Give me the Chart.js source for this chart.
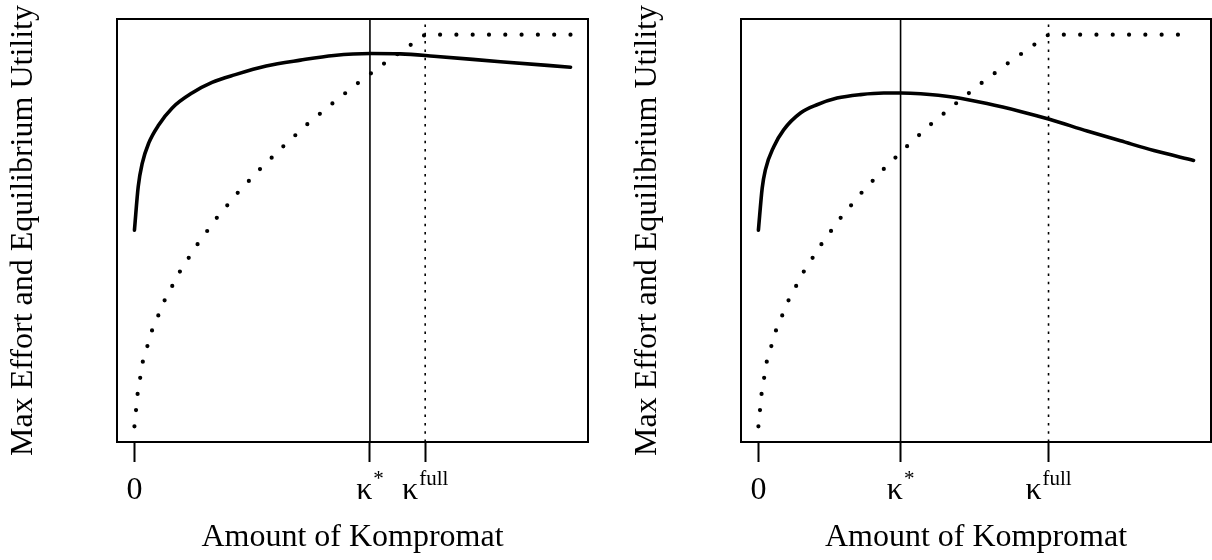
<!DOCTYPE html>
<html>
<head>
<meta charset="utf-8">
<script src="https://cdn.jsdelivr.net/npm/chart.js@4.4.1/dist/chart.umd.min.js"></script>
<style>
body{margin:0;background:#fff;overflow:hidden;width:1212px;height:560px;position:relative}
.panel{position:absolute;top:0}
</style>
</head>
<body>
<div class="panel" style="left:0"><canvas id="left" width="606" height="560"></canvas></div>
<div class="panel" style="left:624px"><canvas id="right" width="588" height="560"></canvas></div>
<script>
// dotted curve: max effort (same in both panels)
var effortX = [0, 0.011, 0.029, 0.061, 0.104, 0.157, 0.217, 0.283, 0.355, 0.432, 0.512, 0.594, 0.680, 0.768, 0.858, 0.950, 1.0, 1.5];
var effortY = [0, 0.084, 0.166, 0.246, 0.322, 0.396, 0.465, 0.532, 0.596, 0.657, 0.715, 0.771, 0.824, 0.876, 0.926, 0.974, 1.0, 1.0];
// solid curve: equilibrium utility
var utilLeftX = [0, 0.013, 0.027, 0.049, 0.084, 0.130, 0.198, 0.267, 0.347, 0.453, 0.571, 0.686, 0.812, 0.915, 1.030, 1.259, 1.5];
var utilLeftY = [0.501, 0.612, 0.672, 0.723, 0.770, 0.813, 0.851, 0.878, 0.898, 0.920, 0.935, 0.947, 0.952, 0.951, 0.945, 0.931, 0.917];
var utilRightX = [0, 0.013, 0.024, 0.053, 0.087, 0.145, 0.202, 0.271, 0.352, 0.432, 0.492, 0.559, 0.674, 0.788, 0.903, 1.003, 1.133, 1.248, 1.363, 1.5];
var utilRightY = [0.501, 0.608, 0.655, 0.714, 0.757, 0.800, 0.821, 0.838, 0.847, 0.851, 0.851, 0.849, 0.840, 0.824, 0.804, 0.784, 0.754, 0.729, 0.704, 0.679];
var kStarLeft = 0.81, kStarRight = 0.49, kFull = 1.0;
var tickBase = ['0', '\u03ba', '\u03ba'];
var tickSup = ['', '*', 'full'];
var xTitle = 'Amount of Kompromat';
var yTitle = 'Max Effort and Equilibrium Utility';
var xMin = -0.06, xMax = 1.56, yMin = -0.04, yMax = 1.04;

Chart.defaults.font.family = 'Liberation Serif';
Chart.defaults.color = '#000';

function pts(xs, ys){
	var out = [];
	for(var i = 0; i < xs.length; i++) out.push({x: xs[i], y: ys[i]});
	return out;
}

var boxPlugin = {
	id: 'box',
	afterDatasetsDraw: function(chart){
		var a = chart.chartArea, ctx = chart.ctx;
		ctx.save();
		ctx.strokeStyle = '#000';
		ctx.lineWidth = 2;
		ctx.strokeRect(a.left, a.top, a.right - a.left, a.bottom - a.top);
		ctx.restore();
	}
};

// tick labels with superscripts (kappa^* , kappa^full)
var tickPlugin = {
	id: 'kappaTicks',
	afterDraw: function(chart){
		var ctx = chart.ctx, sx = chart.scales.x;
		var vals = chart.options.plugins.kappaTicks.values;
		ctx.save();
		ctx.fillStyle = '#000';
		ctx.textBaseline = 'alphabetic';
		ctx.textAlign = 'left';
		for(var i = 0; i < vals.length; i++){
			ctx.font = '32px "Liberation Serif"';
			var w1 = ctx.measureText(tickBase[i]).width;
			ctx.font = '21px "Liberation Serif"';
			var w2 = tickSup[i] ? ctx.measureText(tickSup[i]).width + 1 : 0;
			var x0 = sx.getPixelForValue(vals[i]) - (w1 + w2) / 2;
			ctx.font = '32px "Liberation Serif"';
			ctx.fillText(tickBase[i], x0, 499);
			if(tickSup[i]){
				ctx.font = '21px "Liberation Serif"';
				ctx.fillText(tickSup[i], x0 + w1 + 1, 485);
			}
		}
		ctx.restore();
	}
};

function drawer(id, ux, uy, kStar, padRight){
	var ctx = document.getElementById(id).getContext('2d');
	var chart = new Chart(ctx, {
		type: 'line',
		data: {
			datasets: [{
				data: pts(effortX, effortY),
				borderColor: '#000',
				borderWidth: 4.2,
				borderDash: [0, 16.3],
				borderCapStyle: 'round',
				pointRadius: 0,
				tension: 0
			},
			{
				data: pts(ux, uy),
				borderColor: '#000',
				borderWidth: 3.6,
				borderCapStyle: 'round',
				cubicInterpolationMode: 'monotone',
				pointRadius: 0
			},
			{
				data: [{x: kStar, y: yMin}, {x: kStar, y: yMax}],
				borderColor: '#000',
				borderWidth: 1.6,
				pointRadius: 0
			},
			{
				data: [{x: kFull, y: yMin}, {x: kFull, y: yMax}],
				borderColor: '#000',
				borderWidth: 1.6,
				borderDash: [2.5, 5.8],
				pointRadius: 0
			}]
		},
		options: {
			responsive: false,
			animation: false,
			layout: {padding: {left: 0, top: 19, right: padRight, bottom: 0}},
			plugins: {
				legend: {display: false},
				tooltip: {enabled: false},
				kappaTicks: {values: [0, kStar, kFull]}
			},
			scales: {
				x: {
					type: 'linear',
					min: xMin, max: xMax,
					bounds: 'data',
					afterBuildTicks: function(s){ s.ticks = [{value: 0}, {value: kStar}, {value: kFull}]; },
					afterFit: function(s){ s.height = 118; },
					ticks: {display: false},
					border: {display: false},
					grid: {drawOnChartArea: false, drawTicks: true, tickLength: 20, tickWidth: 2, tickColor: '#000'},
					title: {display: true, text: xTitle, font: {size: 32}, padding: {top: 0, bottom: 3}}
				},
				y: {
					type: 'linear',
					min: yMin, max: yMax,
					bounds: 'data',
					afterFit: function(s){ s.width = 117; },
					ticks: {display: false},
					border: {display: false},
					grid: {display: false},
					title: {display: true, text: yTitle, font: {size: 32}, padding: {top: 4, bottom: 0}}
				}
			}
		},
		plugins: [boxPlugin, tickPlugin]
	});
	return chart;
}

drawer('left', utilLeftX, utilLeftY, kStarLeft, 18);
drawer('right', utilRightX, utilRightY, kStarRight, 1);
</script>
</body>
</html>
